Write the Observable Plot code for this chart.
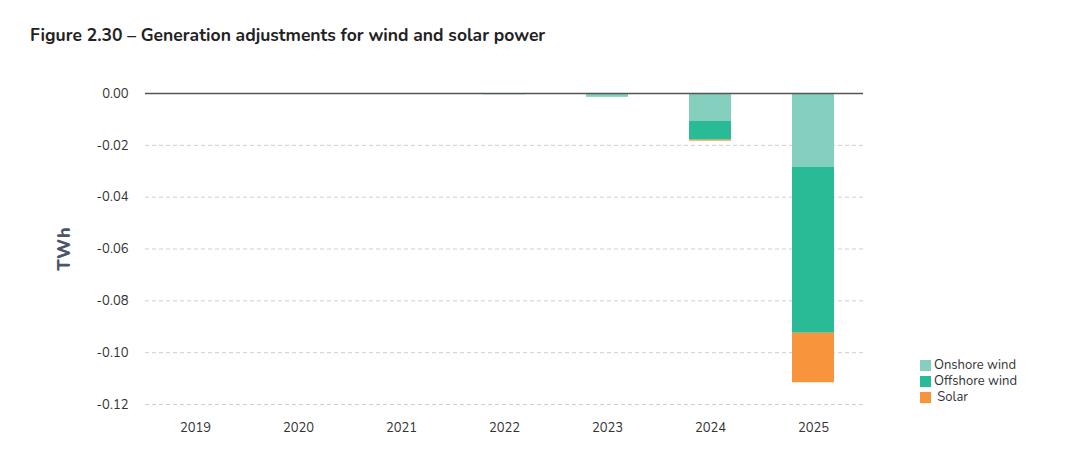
<!DOCTYPE html>
<html><head><meta charset="utf-8">
<script src="https://cdn.jsdelivr.net/npm/d3@7"></script>
<script src="https://cdn.jsdelivr.net/npm/@observablehq/plot@0.6"></script>
<style>
body{margin:0;background:#fff;font-family:Nunito,Lato,"Open Sans",sans-serif;}
#wrap{position:relative;width:1090px;height:467px;}
#title{position:absolute;left:30px;top:23px;font-size:17.5px;font-weight:700;color:#222;}
#chart{position:absolute;left:0;top:60px;}
#legend{position:absolute;left:920px;top:357px;font-size:13px;color:#333;line-height:16px;}
#legend .it{display:flex;align-items:center;}
#legend .sw{width:11px;height:11px;margin-right:3px;}
</style></head>
<body><div id="wrap"><div id="title">Figure 2.30 – Generation adjustments for wind and solar power</div><div id="chart"></div><div id="legend"></div></div>
<script>
const years = ["2019","2020","2021","2022","2023","2024","2025"];
const seriesNames = ["Onshore wind","Offshore wind","Solar"];
const legendLabels = ["Onshore wind","Offshore wind"," Solar"];
const colors = ["#85cfbf","#28bb96","#f7943c"];
const onshore = [0,0,0,-0.0005,-0.0015,-0.0108,-0.0284];
const offshore = [0,0,0,0,0,-0.0072,-0.0641];
const solar = [0,0,0,0,0,-0.0004,-0.0191];
const yTicks = [0,-0.02,-0.04,-0.06,-0.08,-0.10,-0.12];

const values = [onshore, offshore, solar];
const data = years.flatMap((yr,i) => seriesNames.map((s,j) => ({year:yr, series:s, value:values[j][i]})));

const plot = Plot.plot({
  width:1090, height:407,
  marginLeft:145, marginRight:227, marginTop:33, marginBottom:63,
  style:{fontFamily:"Nunito,Lato,'Open Sans',sans-serif", fontSize:"13px", color:"#333"},
  x:{domain:years, paddingInner:0.59, paddingOuter:0.28, label:null},
  y:{domain:[-0.12,0], label:"TWh"},
  color:{domain:seriesNames, range:colors},
  marks:[
    Plot.gridY(yTicks.filter(d=>d!==0), {stroke:"#cfcfcf", strokeOpacity:1, strokeDasharray:"4,3"}),
    Plot.barY(data, {x:"year", y:"value", fill:"series"}),
    Plot.ruleY([0], {stroke:"#555", strokeWidth:1.3}),
    Plot.axisY({ticks:yTicks, tickFormat:d=>d.toFixed(2), tickSize:0, tickPadding:17, label:"TWh", labelAnchor:"center", labelOffset:88, labelArrow:"none"}),
    Plot.axisX({tickSize:0, tickPadding:18, label:null})
  ]
});
document.getElementById("chart").appendChild(plot);
d3.select(plot).selectAll('g[aria-label="y-axis label"] text')
  .style("font-weight","800").style("font-size","18px").style("fill","#4a5568");

const lg = document.getElementById("legend");
seriesNames.forEach((s,i)=>{
  const d=document.createElement("div");d.className="it";
  d.innerHTML=`<span class="sw" style="background:${colors[i]}"></span><span style="white-space:pre">${legendLabels[i]}</span>`;
  lg.appendChild(d);
});
</script></body></html>
